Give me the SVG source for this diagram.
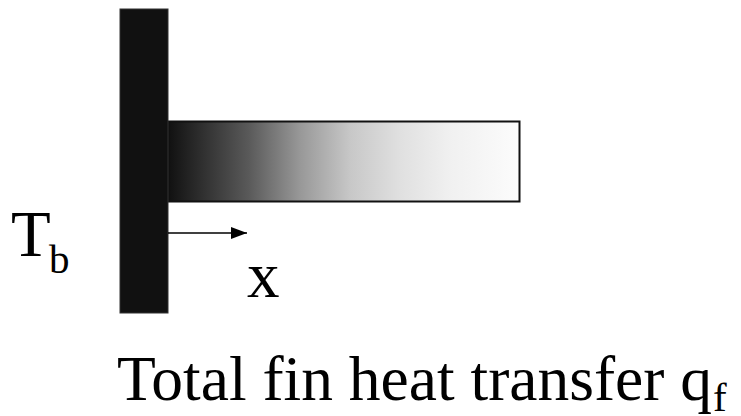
<svg xmlns="http://www.w3.org/2000/svg" width="741" height="416" viewBox="0 0 741 416">
<style>
text{font-family:"Liberation Serif","Times New Roman",serif;fill:#000}
.lbl{font-size:65px}
.cap{font-size:63.5px}
.sub{font-size:41px}
</style>
<defs>
<linearGradient id="g" x1="0" y1="0" x2="1" y2="0">
<stop offset="0" stop-color="#111"/>
<stop offset="0.23" stop-color="#5a5a5a"/>
<stop offset="0.375" stop-color="#989898"/>
<stop offset="0.52" stop-color="#c8c8c8"/>
<stop offset="0.66" stop-color="#e0e0e0"/>
<stop offset="0.8" stop-color="#f0f0f0"/>
<stop offset="1" stop-color="#fcfcfc"/>
</linearGradient>
<marker id="ah" markerWidth="16" markerHeight="12" refX="16" refY="6" orient="auto" markerUnits="userSpaceOnUse">
<path d="M0,0 L16,6 L0,12 Z" fill="#000"/>
</marker>
</defs>
<g id="fin"><rect x="168.5" y="121.5" width="351" height="80" fill="url(#g)" stroke="#111" stroke-width="2"/></g>
<g id="wall"><rect x="120" y="9" width="48" height="304" fill="#111" stroke="#333" stroke-width="1"/></g>
<g id="connectors"><line x1="168" y1="233" x2="247" y2="233" stroke="#000" stroke-width="1.5" marker-end="url(#ah)"/></g>
<g id="Tb"><text class="lbl" x="11" y="256">T<tspan class="sub" x="49" y="273">b</tspan></text></g>
<g id="xlabel"><text class="lbl" x="247" y="297">x</text></g>
<g id="caption"><text class="cap" x="117" y="400">Total fin heat transfer q<tspan class="sub" x="713" y="411">f</tspan></text></g>
</svg>
